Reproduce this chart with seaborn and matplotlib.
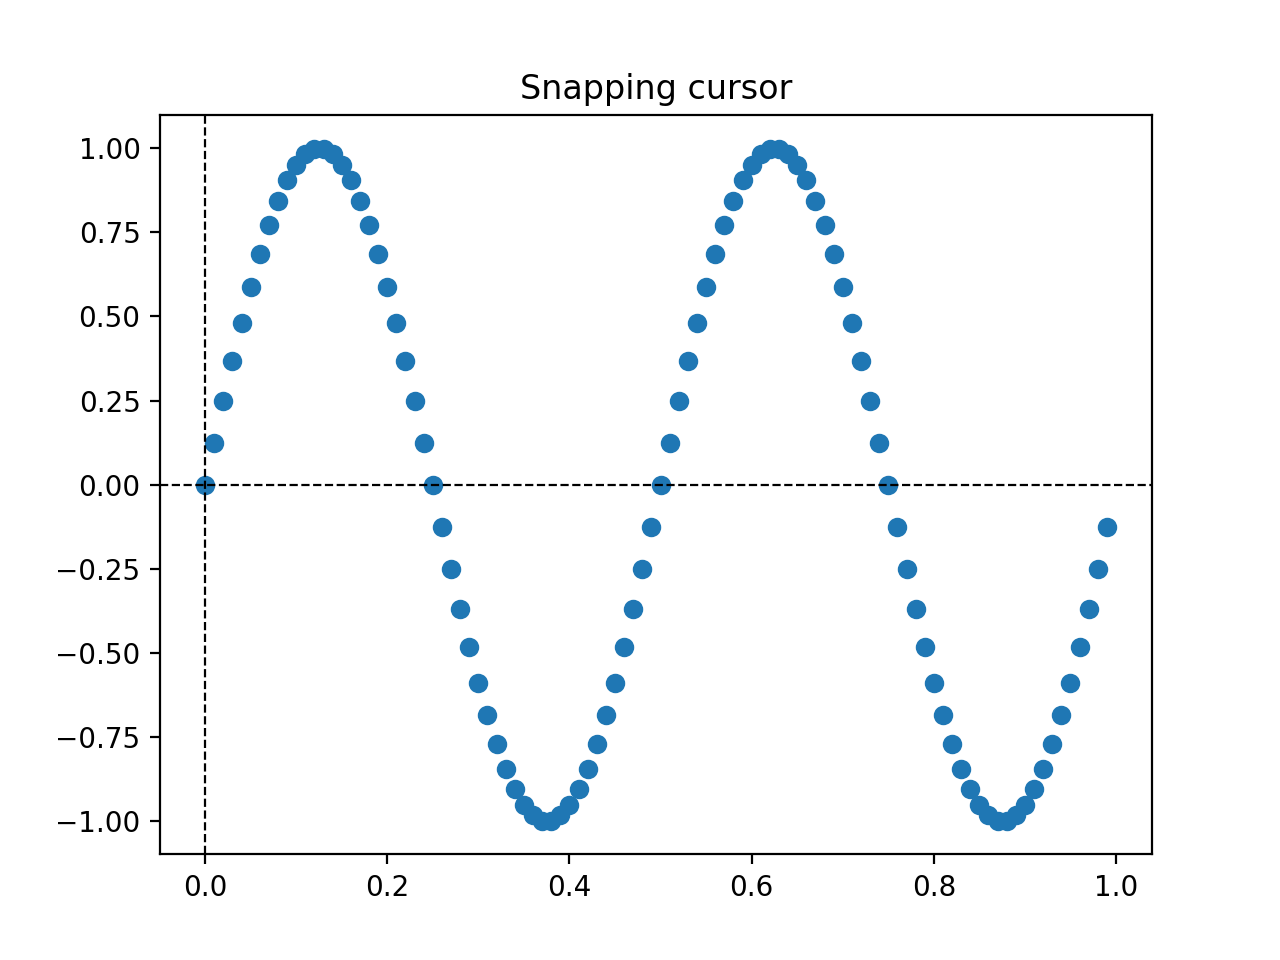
import matplotlib
matplotlib.use("Agg")
import matplotlib.pyplot as plt
import seaborn as sns

# x positions of the sampled points (step 0.01)
x_values = [
    0.00, 0.01, 0.02, 0.03, 0.04, 0.05, 0.06, 0.07, 0.08, 0.09,
    0.10, 0.11, 0.12, 0.13, 0.14, 0.15, 0.16, 0.17, 0.18, 0.19,
    0.20, 0.21, 0.22, 0.23, 0.24, 0.25, 0.26, 0.27, 0.28, 0.29,
    0.30, 0.31, 0.32, 0.33, 0.34, 0.35, 0.36, 0.37, 0.38, 0.39,
    0.40, 0.41, 0.42, 0.43, 0.44, 0.45, 0.46, 0.47, 0.48, 0.49,
    0.50, 0.51, 0.52, 0.53, 0.54, 0.55, 0.56, 0.57, 0.58, 0.59,
    0.60, 0.61, 0.62, 0.63, 0.64, 0.65, 0.66, 0.67, 0.68, 0.69,
    0.70, 0.71, 0.72, 0.73, 0.74, 0.75, 0.76, 0.77, 0.78, 0.79,
    0.80, 0.81, 0.82, 0.83, 0.84, 0.85, 0.86, 0.87, 0.88, 0.89,
    0.90, 0.91, 0.92, 0.93, 0.94, 0.95, 0.96, 0.97, 0.98, 0.99,
]

# y values
y_values = [
    0.000, 0.125, 0.249, 0.368, 0.482, 0.588, 0.685, 0.771, 0.844, 0.905,
    0.951, 0.982, 0.998, 0.998, 0.982, 0.951, 0.905, 0.844, 0.771, 0.685,
    0.588, 0.482, 0.368, 0.249, 0.125, 0.000, -0.125, -0.249, -0.368, -0.482,
    -0.588, -0.685, -0.771, -0.844, -0.905, -0.951, -0.982, -0.998, -0.998, -0.982,
    -0.951, -0.905, -0.844, -0.771, -0.685, -0.588, -0.482, -0.368, -0.249, -0.125,
    0.000, 0.125, 0.249, 0.368, 0.482, 0.588, 0.685, 0.771, 0.844, 0.905,
    0.951, 0.982, 0.998, 0.998, 0.982, 0.951, 0.905, 0.844, 0.771, 0.685,
    0.588, 0.482, 0.368, 0.249, 0.125, 0.000, -0.125, -0.249, -0.368, -0.482,
    -0.588, -0.685, -0.771, -0.844, -0.905, -0.951, -0.982, -0.998, -0.998, -0.982,
    -0.951, -0.905, -0.844, -0.771, -0.685, -0.588, -0.482, -0.368, -0.249, -0.125,
]

# crosshair snapped to the first point
cursor_x = 0.0
cursor_y = 0.0

fig, ax = plt.subplots(figsize=(6.4, 4.8), dpi=200)
sns.scatterplot(
    x=x_values,
    y=y_values,
    color="#1f77b4",
    edgecolor="#1f77b4",
    linewidth=1,
    s=36,
    ax=ax,
)
ax.axhline(cursor_y, color="k", lw=0.8, ls="--")
ax.axvline(cursor_x, color="k", lw=0.8, ls="--")
ax.set_title("Snapping cursor")

fig.savefig("out.png", dpi=200)
